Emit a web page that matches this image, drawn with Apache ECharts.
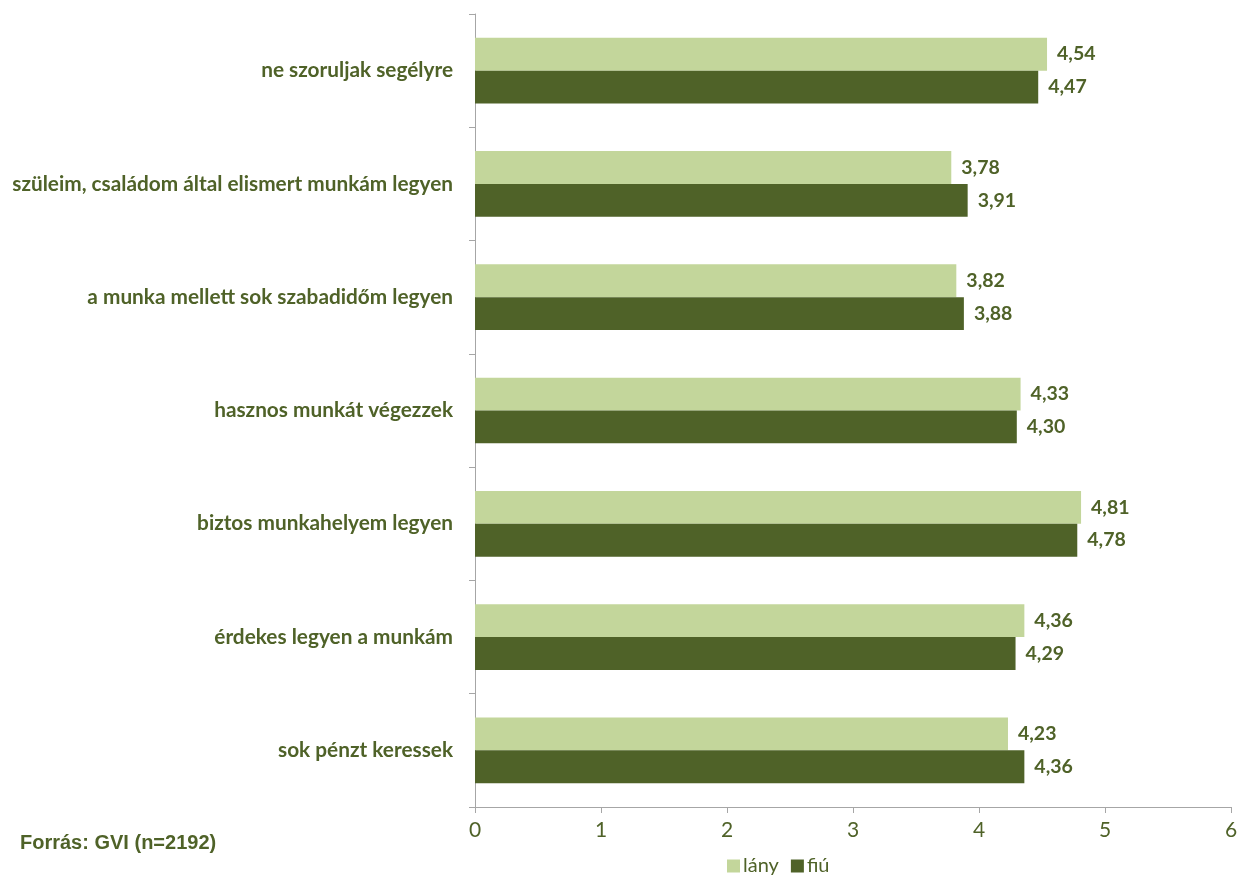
<!DOCTYPE html>
<html>
<head>
<meta charset="utf-8">
<script src="https://cdn.jsdelivr.net/npm/echarts@6/dist/echarts.min.js"></script>
<style>
  html, body { margin: 0; padding: 0; background: #fff; }
  #main { width: 1246px; height: 875px; }
</style>
</head>
<body>
<div id="main"></div>
<script>
// categories bottom -> top (category axis runs upward)
var categories = [
  'sok pénzt keressek',
  'érdekes legyen a munkám',
  'biztos munkahelyem legyen',
  'hasznos munkát végezzek',
  'a munka mellett sok szabadidőm legyen',
  'szüleim, családom által elismert munkám legyen',
  'ne szoruljak segélyre'
];
var lany = [4.23, 4.36, 4.81, 4.33, 3.82, 3.78, 4.54];
var fiu = [4.36, 4.29, 4.78, 4.30, 3.88, 3.91, 4.47];
var xTicks = [0, 1, 2, 3, 4, 5, 6];

var green = '#4f6228';
var light = '#c3d69b';
var font = 'Lato';

var chart = echarts.init(document.getElementById('main'));

function fmt(p) {
  return p.value.toFixed(2).replace('.', ',');
}

var option = {
  backgroundColor: '#ffffff',
  animation: false,
  title: {
    text: 'Forrás: GVI (n=2192)',
    left: 20,
    top: 833,
    padding: 0,
    textStyle: {
      fontFamily: 'Liberation Sans',
      fontWeight: 'bold',
      fontSize: 20,
      color: green
    }
  },
  legend: {
    data: ['lány', 'fiú'],
    left: 722,
    top: 851,
    itemWidth: 13,
    itemHeight: 13,
    itemGap: 12,
    icon: 'rect',
    textStyle: { fontFamily: font, fontSize: 20, color: green, padding: [0, 0, 0, -2] }
  },
  grid: {
    left: 475,
    right: 15,
    top: 14,
    bottom: 68,
    containLabel: false
  },
  xAxis: {
    type: 'value',
    min: xTicks[0],
    max: xTicks[xTicks.length - 1],
    interval: 1,
    splitLine: { show: false },
    axisLine: { show: true, lineStyle: { color: '#a6a6a6' } },
    axisTick: { show: true, length: 6, lineStyle: { color: '#a6a6a6' } },
    axisLabel: {
      fontFamily: font,
      fontSize: 21,
      color: green,
      margin: 13
    }
  },
  yAxis: {
    type: 'category',
    data: categories,
    axisLine: { show: true, lineStyle: { color: '#a6a6a6' } },
    axisTick: { show: true, length: 6, lineStyle: { color: '#a6a6a6' } },
    axisLabel: {
      fontFamily: font,
      fontWeight: 'bold',
      fontSize: 20.8,
      color: green,
      margin: 22
    }
  },
  series: [
    {
      name: 'lány',
      type: 'bar',
      data: lany,
      barGap: '0%',
      barCategoryGap: '42%',
      itemStyle: { color: light },
      label: {
        show: true,
        position: 'right',
        distance: 10,
        formatter: fmt,
        fontFamily: font,
        fontWeight: 'bold',
        fontSize: 19.5,
        color: green
      }
    },
    {
      name: 'fiú',
      type: 'bar',
      data: fiu,
      barGap: '0%',
      barCategoryGap: '42%',
      itemStyle: { color: green },
      label: {
        show: true,
        position: 'right',
        distance: 10,
        formatter: fmt,
        fontFamily: font,
        fontWeight: 'bold',
        fontSize: 19.5,
        color: green
      }
    }
  ]
};

chart.setOption(option);
</script>
</body>
</html>
